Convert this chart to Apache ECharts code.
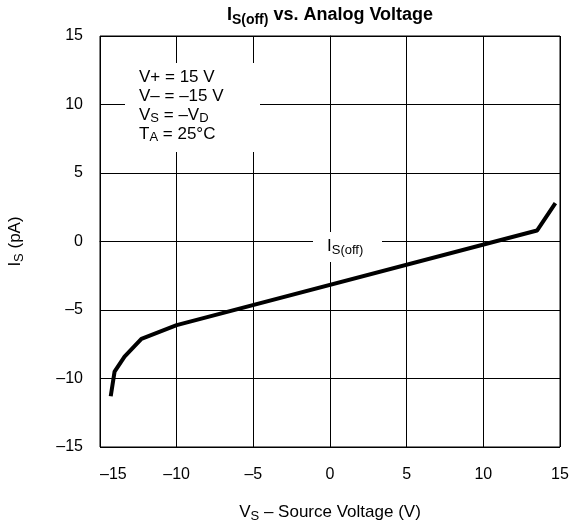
<!DOCTYPE html>
<html>
<head>
<meta charset="utf-8">
<script src="https://cdn.jsdelivr.net/npm/echarts@6/dist/echarts.min.js"></script>
<style>
  html, body { margin: 0; padding: 0; background: #fff; }
  #chart { width: 571px; height: 522px; }
</style>
</head>
<body>
<div id="chart"></div>
<script>
// I_S(off) curve (V, pA)
const vsValues = [-14.3, -14.05, -13.4, -12.3, -10, 13.5, 14.7]
const isValues = [-11.3, -9.5, -8.4, -7.1, -6.1, 0.8, 2.8]
const conditions = ['V+ = 15 V', 'V\u2013 = \u201315 V', '{t|V}{s|S}{t| = \u2013V}{s|D}', '{t|T}{s|A}{t| = 25\u00b0C}']

const FONT = '"Liberation Sans", Arial, sans-serif'
const dash = v => String(v).replace('-', '\u2013')

const chart = echarts.init(document.getElementById('chart'))

const sub = (size, lh) => ({ fontFamily: FONT, fontSize: size, color: '#000', lineHeight: lh })
const subRich = (big, small, lh) => ({
  t: sub(big, lh),
  s: Object.assign(sub(small, small), { verticalAlign: 'bottom' })
})

chart.setOption({
  animation: false,
  title: {
    text: '{b|I}{bs|S(off)}{b| vs. Analog Voltage}',
    left: 330, top: 3, padding: 0, textAlign: 'center',
    textStyle: {
      rich: {
        b: Object.assign(sub(18, 24), { fontWeight: 'bold' }),
        bs: Object.assign(sub(14, 14), { fontWeight: 'bold', verticalAlign: 'bottom' })
      }
    }
  },
  grid: {
    left: 100, right: 11, top: 36, bottom: 75,
    containLabel: false, outerBoundsMode: 'none',
    show: true, borderColor: '#000', borderWidth: 1
  },
  xAxis: {
    type: 'value', min: -15, max: 15, interval: 5,
    name: '{t|V}{s|S}{t| \u2013 Source Voltage (V)}',
    nameLocation: 'middle', nameGap: 55,
    nameTextStyle: { rich: subRich(17, 13, 21) },
    axisLine: { show: true, lineStyle: { color: '#000' } },
    axisTick: { show: false },
    splitLine: { show: true, lineStyle: { color: '#000', width: 1 } },
    axisLabel: { color: '#000', fontFamily: FONT, fontSize: 16, margin: 20, formatter: dash, alignMinLabel: 'left' }
  },
  yAxis: {
    type: 'value', min: -15, max: 15, interval: 5,
    name: '{t|I}{s|S}{t| (pA)}',
    nameLocation: 'middle', nameGap: 74, nameRotate: 90,
    nameTextStyle: { rich: subRich(17, 13, 21) },
    axisLine: { show: true, lineStyle: { color: '#000' } },
    axisTick: { show: false },
    splitLine: { show: true, lineStyle: { color: '#000', width: 1 } },
    axisLabel: { color: '#000', fontFamily: FONT, fontSize: 16, margin: 17, formatter: dash }
  },
  series: [{
    type: 'line',
    data: vsValues.map((v, i) => [v, isValues[i]]),
    showSymbol: false,
    lineStyle: { color: '#000', width: 4 },
    z: 3
  }],
  graphic: [
    {
      type: 'rect', z: 10,
      shape: { x: 125, y: 63, width: 135, height: 89 },
      style: { fill: '#fff' }
    },
    {
      type: 'text', z: 11, left: 139, top: 69,
      style: {
        text: conditions.map(c => c.startsWith('{') ? c : '{t|' + c + '}').join('\n'),
        rich: subRich(17, 13, 19)
      }
    },
    {
      type: 'rect', z: 10,
      shape: { x: 313, y: 232, width: 69, height: 30 },
      style: { fill: '#fff' }
    },
    {
      type: 'text', z: 11, left: 327, top: 238,
      style: {
        text: '{t|I}{s|S(off)}',
        rich: subRich(17, 13, 21)
      }
    }
  ]
})
</script>
</body>
</html>
